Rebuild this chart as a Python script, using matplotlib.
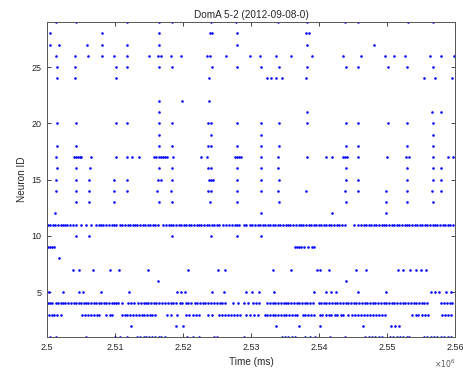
import numpy as np
import matplotlib.pyplot as plt

plt.rcParams['font.family'] = ['Liberation Sans', 'DejaVu Sans']

# spike times, seconds after t = 2.5e6 ms, one list per neuron
n01 = [0.5, 1.3, 5.8, 10.0, 10.7, 11.8, 13.3, 13.7, 14.2, 14.6, 15.0, 15.5, 15.9,
       16.4, 16.8, 17.3, 20.6, 21.4, 22.4, 24.5, 25.0, 28.9, 34.5, 35.0, 35.5,
       36.0, 36.5, 37.9, 38.7, 39.4, 41.6, 43.8, 46.8, 47.3, 47.8, 48.3, 48.8,
       49.3, 50.4, 50.9, 51.4, 51.9, 52.4, 52.9, 53.3, 55.4, 55.9, 56.4, 56.9,
       57.4, 57.9, 58.4, 58.9, 59.4]
n02 = [12.4, 19.0, 20.0, 33.7, 37.0, 40.2, 46.5, 50.6, 51.2, 51.8]
n03 = [0.3, 0.7, 1.1, 1.5, 2.0, 5.2, 5.6, 6.0, 6.5, 6.9, 7.3, 7.7, 8.7, 9.2, 9.6,
       11.0, 11.4, 11.8, 12.2, 12.7, 13.1, 13.5, 13.9, 14.3, 14.7, 15.1, 15.5,
       15.9, 17.7, 18.2, 19.1, 20.4, 20.9, 21.4, 21.9, 22.4, 23.7, 24.2, 25.3,
       25.7, 26.2, 26.6, 27.1, 27.5, 27.9, 28.4, 29.3, 29.8, 30.5, 31.0, 32.0,
       32.4, 32.8, 33.2, 33.6, 34.0, 34.4, 34.8, 35.2, 35.6, 36.0, 36.4, 36.8,
       37.6, 38.0, 38.4, 38.8, 39.2, 40.1, 40.5, 41.0, 41.4, 41.8, 42.3, 42.7,
       43.2, 43.6, 44.3, 44.8, 45.3, 45.8, 46.2, 46.6, 47.0, 47.5, 47.9, 48.4,
       48.8, 49.3, 49.7, 53.7, 54.2, 54.6, 55.1, 55.6, 56.0, 58.1, 58.6, 59.0,
       59.4]
n04 = [0.1, 0.4, 0.8, 1.3, 1.6, 2.0, 2.3, 2.7, 3.1, 3.6, 4.0, 4.3, 4.7, 5.0, 5.4,
       5.8, 6.1, 6.5, 6.9, 7.2, 7.6, 8.0, 8.4, 8.7, 9.1, 9.5, 9.9, 10.2, 10.5,
       11.1, 11.9, 12.3, 12.8, 13.4, 13.8, 14.2, 14.6, 14.9, 15.3, 15.7, 16.1,
       16.5, 16.9, 17.3, 17.8, 18.2, 18.6, 19.0, 19.5, 19.9, 20.4, 20.8, 21.2,
       21.7, 22.1, 22.5, 22.9, 23.3, 23.7, 24.1, 24.6, 25.0, 25.4, 25.8, 26.2,
       27.3, 28.1, 29.0, 29.5, 30.3, 30.8, 31.2, 32.4, 32.8, 33.2, 33.6, 34.0,
       34.4, 34.8, 35.1, 35.5, 35.9, 36.3, 36.7, 37.1, 37.5, 37.9, 38.3, 38.7,
       39.1, 40.0, 40.3, 40.7, 41.1, 41.5, 41.9, 42.3, 42.7, 43.1, 43.5, 43.9,
       44.3, 44.7, 45.1, 45.5, 45.9, 46.3, 46.7, 47.1, 47.5, 47.9, 48.3, 48.7,
       49.1, 49.5, 49.9, 50.3, 50.7, 51.1, 51.5, 51.9, 52.3, 52.7, 53.1, 53.5,
       53.9, 54.3, 54.7, 55.1, 55.5, 55.9, 58.0, 58.4, 58.8, 59.2, 59.6]
n05 = [0.0, 0.3, 2.4, 4.7, 5.3, 7.9, 12.1, 19.1, 19.7, 20.3, 24.3, 26.0, 29.3,
       30.2, 31.2, 33.4, 39.3, 41.0, 41.8, 42.5, 45.7, 49.8, 56.4, 57.0, 57.6,
       58.7, 59.4]
n06 = [16.3, 43.9]
n07 = [3.8, 4.7, 6.7, 9.2, 10.6, 14.9, 20.8, 25.2, 26.2, 33.2, 35.9, 39.7, 40.2,
       41.5, 45.5, 46.9, 51.6, 52.3, 53.4, 54.3, 55.0, 55.8]
n08 = [1.7]
n09 = [0.1, 0.4, 0.7, 1.0, 36.4, 36.7, 37.0, 37.4, 37.8, 38.4, 38.9, 39.3]
n10 = [4.2, 6.2, 18.4, 24.1, 27.9, 31.4]
n11 = [0.1, 0.5, 0.9, 1.2, 1.6, 2.0, 2.3, 2.7, 3.0, 3.4, 3.8, 4.2, 5.0, 5.7, 6.4,
       7.2, 7.6, 8.0, 8.3, 8.7, 9.1, 9.5, 9.8, 10.2, 10.8, 11.1, 11.5, 11.9,
       12.2, 12.6, 13.0, 13.3, 13.7, 14.1, 14.4, 14.8, 15.2, 15.6, 15.9, 16.3,
       17.1, 17.5, 17.9, 18.2, 18.6, 19.0, 19.4, 19.7, 20.1, 20.5, 20.9, 21.2,
       21.6, 22.0, 22.4, 22.7, 23.1, 23.5, 23.8, 24.2, 24.6, 25.0, 25.3, 25.9,
       26.3, 26.8, 27.2, 27.6, 28.0, 28.3, 28.9, 29.3, 29.8, 30.2, 30.6, 31.0,
       31.3, 31.7, 32.1, 32.5, 32.8, 33.2, 33.6, 34.0, 34.3, 34.7, 35.1, 35.5,
       35.8, 36.2, 36.6, 37.0, 37.3, 37.7, 38.1, 38.5, 38.8, 39.2, 39.6, 40.0,
       40.3, 40.7, 41.1, 41.5, 41.8, 42.2, 42.6, 43.0, 43.4, 43.8, 45.1, 45.8,
       46.2, 46.6, 46.9, 47.3, 47.7, 48.1, 48.4, 48.8, 49.2, 49.6, 49.9, 50.3,
       50.7, 51.1, 51.4, 51.8, 52.2, 52.6, 52.9, 53.3, 53.7, 54.1, 54.4, 54.8,
       55.2, 55.6, 55.9, 56.3, 56.7, 57.1, 57.4, 57.8, 58.2, 58.6, 58.9, 59.3,
       59.7]
n12 = [1.2, 31.4, 41.9, 49.9]
n13 = [4.2, 6.2, 9.8, 16.5, 18.4, 23.9, 27.9, 34.1, 43.9, 49.9, 53.0, 56.8]
n14 = [1.3, 4.2, 6.2, 9.8, 11.7, 16.2, 18.3, 23.7, 24.1, 27.9, 31.4, 33.9, 38.1,
       43.8, 45.7, 49.9, 53.0, 56.6, 58.0]
n15 = [1.3, 4.2, 6.2, 9.8, 11.7, 16.3, 16.7, 18.4, 23.8, 24.1, 24.4, 27.9, 31.4,
       34.1, 43.9, 45.7, 53.0, 56.7, 58.0]
n16 = [1.4, 4.2, 6.3, 16.5, 18.4, 23.7, 24.1, 27.9, 31.4, 34.0, 43.9, 53.0,
       56.7, 58.0]
n17 = [1.3, 3.9, 4.2, 4.5, 4.8, 5.0, 6.4, 10.1, 11.8, 12.5, 13.5, 15.7, 16.1,
       16.4, 16.7, 17.0, 17.3, 17.6, 18.6, 22.6, 23.6, 27.7, 28.0, 28.3, 28.6,
       31.4, 34.0, 38.3, 41.0, 41.9, 43.5, 43.8, 44.1, 45.7, 50.0, 52.8, 53.2,
       56.8, 59.0, 59.7]
n18 = [1.4, 4.2, 16.5, 18.4, 23.7, 24.1, 27.9, 31.4, 34.1, 43.9, 45.7, 53.0, 56.8]
n19 = [16.5, 24.1, 31.4, 56.8]
n20 = [1.4, 4.2, 10.1, 11.8, 16.5, 18.4, 23.7, 24.1, 27.9, 31.4, 34.1, 38.3,
       43.9, 45.7, 50.1, 53.0, 56.8]
n21 = [16.5, 38.3, 56.6, 57.9]
n22 = [16.5, 19.8, 23.8]
n24 = [1.4, 4.1, 10.1, 23.8, 32.3, 32.9, 33.7, 34.5, 38.1, 55.4, 57.0, 59.6]
n25 = [1.4, 4.1, 10.1, 11.8, 16.5, 18.4, 24.2, 27.9, 31.4, 34.1, 38.3, 43.9,
       45.7, 50.2, 53.0, 56.8]
n26 = [1.3, 4.1, 6.0, 8.1, 9.8, 11.7, 15.0, 16.3, 16.7, 18.3, 19.7, 23.6, 24.0,
       26.3, 29.9, 31.3, 33.7, 35.9, 38.9, 43.6, 46.2, 49.7, 51.1, 52.7, 56.3,
       57.9, 59.8]
n27 = [0.5, 1.8, 5.9, 8.1, 11.7, 16.5, 27.9, 38.3, 48.1]
n28 = [0.5, 8.1, 16.5, 23.9, 24.3, 27.9, 38.1, 38.5]
n29 = [1.3, 4.3, 11.8, 16.5, 18.4, 24.1, 27.8, 34.0, 38.2, 43.8, 45.7, 53.1, 56.8]

neuron_ids = [1, 2, 3, 4, 5, 6, 7, 8, 9, 10, 11, 12, 13, 14, 15, 16, 17, 18, 19,
              20, 21, 22, 24, 25, 26, 27, 28, 29]
spikes = [n01, n02, n03, n04, n05, n06, n07, n08, n09, n10, n11, n12, n13, n14,
          n15, n16, n17, n18, n19, n20, n21, n22, n24, n25, n26, n27, n28, n29]

t_start = 2.5e6
xticks = [2.50e6, 2.51e6, 2.52e6, 2.53e6, 2.54e6, 2.55e6, 2.56e6]
xtick_labels = ['2.5', '2.51', '2.52', '2.53', '2.54', '2.55', '2.56']
yticks = [5, 10, 15, 20, 25]

ink = '#262626'

fig = plt.figure(figsize=(4.64, 3.73), dpi=100)
ax = fig.add_axes([0.1013, 0.0965, 0.8793, 0.8445])

for nid, s in zip(neuron_ids, spikes):
    t = t_start + np.array(s) * 1000.0
    ax.plot(t, np.full(len(t), nid), '.', color='b', ms=3.7, mew=0)

ax.set_xlim(2.5e6, 2.56e6)
ax.set_ylim(1, 29)
ax.set_xticks(xticks)
ax.set_xticklabels(xtick_labels)
ax.set_yticks(yticks)
ax.tick_params(direction='in', top=True, right=True, length=3, width=0.6,
               labelsize=6.5, colors=ink, pad=4)
for sp in ax.spines.values():
    sp.set_color('#555555')
    sp.set_linewidth(0.7)

ax.set_title('DomA 5-2 (2012-09-08-0)', fontsize=7.2, color=ink, pad=3)
ax.set_xlabel('Time (ms)', fontsize=7.2, color=ink)
ax.xaxis.set_label_coords(0.5, -0.063)
ax.set_ylabel('Neuron ID', fontsize=7.2, color=ink)
ax.yaxis.set_label_coords(-0.05, 0.5)
ax.text(1.0, -0.065, r'$\times10^{6}$', transform=ax.transAxes, ha='right',
        va='top', fontsize=5.5, color='#555555')

fig.savefig('out.png', dpi=100)
